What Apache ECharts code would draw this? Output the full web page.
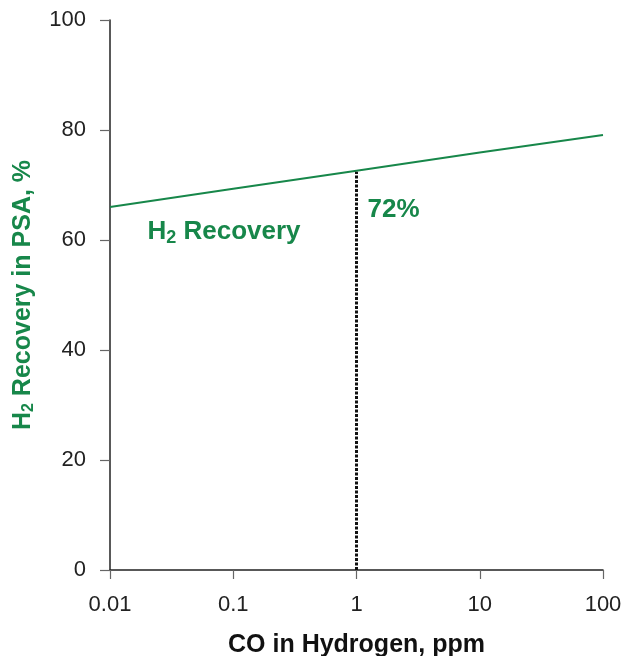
<!DOCTYPE html>
<html>
<head>
<meta charset="utf-8">
<script src="https://cdn.jsdelivr.net/npm/echarts@6/dist/echarts.min.js"></script>
<style>html,body{margin:0;padding:0;background:#fff}#c{width:621px;height:656px}</style>
</head>
<body>
<div id="c"></div>
<script>
const coPpm = [0.01, 0.1, 1, 10, 100];
const recovery = [66, 69.3, 72.6, 75.9, 79.1];
const markerX = 1;
const markerY = 72.4;
const xTickLabels = ['0.01', '0.1', '1', '10', '100'];

const green = '#17874a';
const font = 'Liberation Sans';
const chart = echarts.init(document.getElementById('c'));
chart.setOption({
  animation: false,
  grid: {left: 110, right: 18, top: 20, bottom: 86, outerBoundsMode: 'none', containLabel: false},
  xAxis: {
    type: 'log', logBase: 10, min: 0.01, max: 100,
    axisLine: {lineStyle: {color: '#222', width: 1.5}},
    axisTick: {length: 9, lineStyle: {color: '#666', width: 1.2}},
    splitLine: {show: false},
    axisLabel: {color: '#222', fontSize: 22, fontFamily: font, margin: 24,
      formatter: v => { const i = coPpm.indexOf(+(+v).toPrecision(6)); return i >= 0 ? xTickLabels[i] : ''; }},
    name: 'CO in Hydrogen, ppm', nameLocation: 'middle', nameGap: 63,
    nameTextStyle: {color: '#111', fontSize: 25, fontWeight: 'bold', fontFamily: font}
  },
  yAxis: {
    type: 'value', min: 0, max: 100, interval: 20,
    axisLine: {show: true, lineStyle: {color: '#222', width: 1.5}},
    axisTick: {show: true, length: 10, lineStyle: {color: '#666', width: 1.2}},
    splitLine: {show: false},
    axisLabel: {color: '#222', fontSize: 22, fontFamily: font, margin: 24},
    name: '{m|H}{s|2}{m| Recovery in PSA, %}', nameLocation: 'middle', nameGap: 73, nameRotate: 90,
    nameTextStyle: {
      rich: {
        m: {color: green, fontSize: 25, fontWeight: 'bold', fontFamily: font},
        s: {color: green, fontSize: 16, fontWeight: 'bold', fontFamily: font, padding: [12, 0, 0, 0]}
      }
    }
  },
  series: [{
    type: 'line',
    data: coPpm.map((x, i) => [x, recovery[i]]),
    symbol: 'none',
    lineStyle: {color: green, width: 2},
    markLine: {
      silent: true, symbol: 'none', label: {show: false},
      lineStyle: {color: '#111', type: [3, 1.5], width: 3},
      data: [[{coord: [markerX, 0]}, {coord: [markerX, markerY]}]]
    },
    markPoint: {
      symbolSize: 0,
      data: [
        {coord: [markerX, markerY], label: {show: true, formatter: '72%', color: green, fontSize: 26, fontWeight: 'bold', fontFamily: font, offset: [37, 38]}},
        {coord: [0.01, 60], label: {show: true, formatter: '{m|H}{s|2}{m| Recovery}', offset: [114, -8],
          rich: {
            m: {color: green, fontSize: 26, fontWeight: 'bold', fontFamily: font},
            s: {color: green, fontSize: 18, fontWeight: 'bold', fontFamily: font, padding: [13, 0, 0, 0]}
          }}}
      ]
    }
  }]
});
</script>
</body>
</html>
